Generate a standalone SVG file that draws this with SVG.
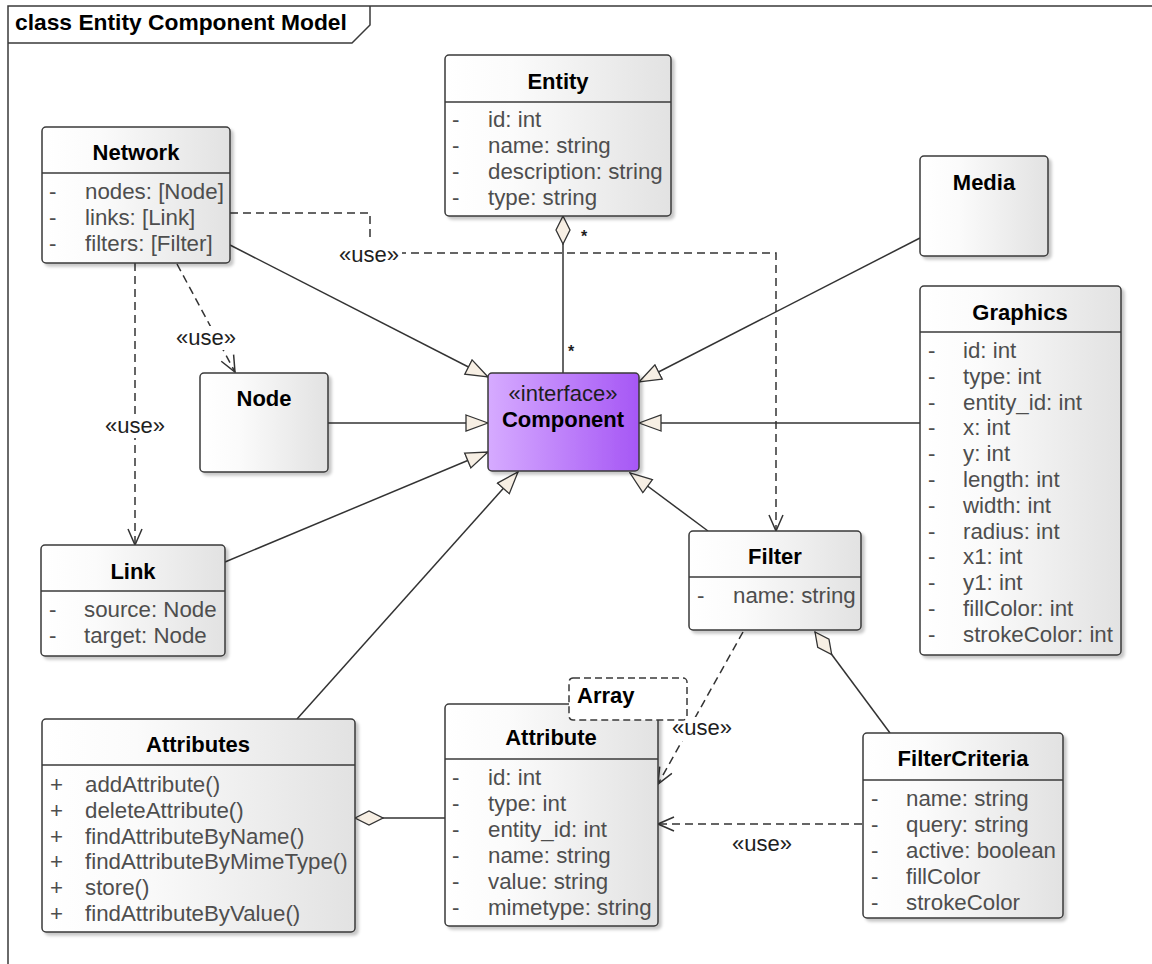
<svg xmlns="http://www.w3.org/2000/svg" width="1152" height="964" viewBox="0 0 1152 964">
  <defs>
    <style>
      .frame { fill: none; stroke: #3a3a3a; stroke-width: 1.5; }
      .frame-title { font: bold 22.8px "Liberation Sans", Arial, sans-serif; fill: #000; }
      .box { fill: url(#boxGrad); stroke: #3a3a3a; stroke-width: 1.5; filter: url(#shadow); }
      .iface { fill: url(#ifaceGrad); stroke: #3a3a3a; stroke-width: 1.5; filter: url(#shadow); }
      .sep { stroke: #3a3a3a; stroke-width: 1.5; }
      .title { font: bold 22px "Liberation Sans", Arial, sans-serif; fill: #000; text-anchor: middle; }
      .stereo { font: 22px "Liberation Sans", Arial, sans-serif; fill: #1e1e1e; text-anchor: middle; }
      .attr { font: 22.3px "Liberation Sans", Arial, sans-serif; fill: #4e4e4e; }
      .note { fill: #fff; stroke: #3a3a3a; stroke-width: 1.5; stroke-dasharray: 7 4; }
      .note-text { font: bold 22px "Liberation Sans", Arial, sans-serif; fill: #000; }
      .solid { fill: none; stroke: #333; stroke-width: 1.5; }
      .dash { fill: none; stroke: #333; stroke-width: 1.5; stroke-dasharray: 8 5; }
      .label { font: 22px "Liberation Sans", Arial, sans-serif; fill: #1e1e1e; text-anchor: middle; }
      .mult { font: bold 16px "Liberation Sans", Arial, sans-serif; fill: #1e1e1e; text-anchor: middle; }
      .bg { fill: #fff; }
    </style>
    <linearGradient id="boxGrad" x1="0" y1="0" x2="1" y2="0">
      <stop offset="0" stop-color="#ffffff"/>
      <stop offset="0.3" stop-color="#fbfbfb"/>
      <stop offset="1" stop-color="#e2e2e2"/>
    </linearGradient>
    <linearGradient id="ifaceGrad" x1="0" y1="0" x2="1" y2="0">
      <stop offset="0" stop-color="#d6abff"/>
      <stop offset="1" stop-color="#a657f5"/>
    </linearGradient>
    <filter id="shadow" x="-10%" y="-10%" width="125%" height="125%">
      <feDropShadow dx="3" dy="3" stdDeviation="1.5" flood-color="#000" flood-opacity="0.22"/>
    </filter>
    <!-- hollow triangle: generalization -->
    <marker id="gen" viewBox="0 0 24 18" refX="23" refY="9" markerWidth="24" markerHeight="18" orient="auto" markerUnits="userSpaceOnUse">
      <path d="M1,1 L23,9 L1,17 z" fill="#f7efe4" stroke="#333" stroke-width="1.3" stroke-dasharray="none"/>
    </marker>
    <!-- open arrow: dependency -->
    <marker id="open" viewBox="0 0 18 16" refX="17" refY="8" markerWidth="18" markerHeight="16" orient="auto" markerUnits="userSpaceOnUse">
      <path d="M1,1 L17,8 L1,15" fill="none" stroke="#333" stroke-width="1.5" stroke-dasharray="none"/>
    </marker>
    <!-- hollow diamond: aggregation -->
    <marker id="agg" viewBox="0 0 30 16" refX="1" refY="8" markerWidth="30" markerHeight="16" orient="auto" markerUnits="userSpaceOnUse">
      <path d="M1,8 L15,1 L29,8 L15,15 z" fill="#f7efe4" stroke="#333" stroke-width="1.3" stroke-dasharray="none"/>
    </marker>
  </defs>

  <rect width="1152" height="964" fill="#fff"/>

  <!-- diagram frame -->
  <g id="frame">
    <path class="frame" d="M8,964 V6 H1152"/>
    <path class="frame" d="M8,43 H352 L370,25 V6"/>
    <text class="frame-title" x="15" y="30">class Entity Component Model</text>
  </g>

  <!-- connectors -->
  <g id="connectors">
    <!-- generalizations to Component -->
    <path class="solid" d="M230,245 L488,377" marker-end="url(#gen)"/>
    <path class="solid" d="M328,423 L488,423" marker-end="url(#gen)"/>
    <path class="solid" d="M225,562 L488,452" marker-end="url(#gen)"/>
    <path class="solid" d="M297,719 L518,472" marker-end="url(#gen)"/>
    <path class="solid" d="M920,238 L639,382" marker-end="url(#gen)"/>
    <path class="solid" d="M920,423 L639,423" marker-end="url(#gen)"/>
    <path class="solid" d="M708,531 L630,473" marker-end="url(#gen)"/>

    <!-- aggregations -->
    <path class="solid" d="M563,216 L563,373" marker-start="url(#agg)"/>
    <path class="solid" d="M815,632 L890,733" marker-start="url(#agg)"/>
    <path class="solid" d="M355,818 L445,818" marker-start="url(#agg)"/>

    <!-- dependencies -->
    <path class="dash" d="M230,213 H370 V253 H776 V531" marker-end="url(#open)"/>
    <path class="dash" d="M135,263 V545" marker-end="url(#open)"/>
    <path class="dash" d="M177,264 L235,372" marker-end="url(#open)"/>
    <path class="dash" d="M743,632 L658,784" marker-end="url(#open)"/>
    <path class="dash" d="M862,824 H658" marker-end="url(#open)"/>

    <!-- labels -->
    <rect class="bg" x="338" y="240" width="64" height="24"/>
    <text class="label" x="369" y="262">«use»</text>
    <rect class="bg" x="104" y="414" width="62" height="24"/>
    <text class="label" x="135" y="433">«use»</text>
    <rect class="bg" x="175" y="326" width="62" height="24"/>
    <text class="label" x="206" y="345">«use»</text>
    <rect class="bg" x="671" y="717" width="62" height="24"/>
    <text class="label" x="702" y="735">«use»</text>
    <text class="label" x="762" y="851">«use»</text>

    <text class="mult" x="584" y="242">*</text>
    <text class="mult" x="571" y="357">*</text>
  </g>

  <g id="entity">
    <rect class="box" x="445" y="55" width="226" height="161" rx="4"/>
    <line class="sep" x1="445" y1="102" x2="671" y2="102"/>
    <text class="title" x="558" y="89">Entity</text>
    <text class="attr" x="452" y="127">-</text><text class="attr" x="488" y="127">id: int</text>
    <text class="attr" x="452" y="153">-</text><text class="attr" x="488" y="153">name: string</text>
    <text class="attr" x="452" y="179">-</text><text class="attr" x="488" y="179">description: string</text>
    <text class="attr" x="452" y="205">-</text><text class="attr" x="488" y="205">type: string</text>
  </g>

  <g id="network">
    <rect class="box" x="42" y="127" width="188" height="136" rx="4"/>
    <line class="sep" x1="42" y1="173" x2="230" y2="173"/>
    <text class="title" x="136" y="160">Network</text>
    <text class="attr" x="49" y="199">-</text><text class="attr" x="85" y="199">nodes: [Node]</text>
    <text class="attr" x="49" y="225">-</text><text class="attr" x="85" y="225">links: [Link]</text>
    <text class="attr" x="49" y="251">-</text><text class="attr" x="85" y="251">filters: [Filter]</text>
  </g>

  <g id="media">
    <rect class="box" x="920" y="156" width="128" height="100" rx="4"/>
    <text class="title" x="984" y="190">Media</text>
  </g>

  <g id="node">
    <rect class="box" x="200" y="373" width="128" height="99" rx="4"/>
    <text class="title" x="264" y="406">Node</text>
  </g>

  <g id="component">
    <rect class="iface" x="488" y="373" width="151" height="98" rx="4"/>
    <text class="stereo" x="563" y="401">«interface»</text>
    <text class="title" x="563" y="427">Component</text>
  </g>

  <g id="graphics">
    <rect class="box" x="920" y="286" width="201" height="369" rx="4"/>
    <line class="sep" x1="920" y1="332" x2="1121" y2="332"/>
    <text class="title" x="1020" y="320">Graphics</text>
    <g class="attr">
      <text x="928" y="358">-</text><text x="963" y="358">id: int</text>
      <text x="928" y="383.8">-</text><text x="963" y="383.8">type: int</text>
      <text x="928" y="409.6">-</text><text x="963" y="409.6">entity_id: int</text>
      <text x="928" y="435.4">-</text><text x="963" y="435.4">x: int</text>
      <text x="928" y="461.2">-</text><text x="963" y="461.2">y: int</text>
      <text x="928" y="487">-</text><text x="963" y="487">length: int</text>
      <text x="928" y="512.8">-</text><text x="963" y="512.8">width: int</text>
      <text x="928" y="538.6">-</text><text x="963" y="538.6">radius: int</text>
      <text x="928" y="564.4">-</text><text x="963" y="564.4">x1: int</text>
      <text x="928" y="590.2">-</text><text x="963" y="590.2">y1: int</text>
      <text x="928" y="616">-</text><text x="963" y="616">fillColor: int</text>
      <text x="928" y="641.8">-</text><text x="963" y="641.8">strokeColor: int</text>
    </g>
  </g>

  <g id="link">
    <rect class="box" x="41" y="545" width="184" height="111" rx="4"/>
    <line class="sep" x1="41" y1="591" x2="225" y2="591"/>
    <text class="title" x="133" y="579">Link</text>
    <text class="attr" x="49" y="617">-</text><text class="attr" x="84" y="617">source: Node</text>
    <text class="attr" x="49" y="643">-</text><text class="attr" x="84" y="643">target: Node</text>
  </g>

  <g id="filter">
    <rect class="box" x="689" y="531" width="172" height="99" rx="4"/>
    <line class="sep" x1="689" y1="577" x2="861" y2="577"/>
    <text class="title" x="775" y="564">Filter</text>
    <text class="attr" x="697" y="603">-</text><text class="attr" x="733" y="603">name: string</text>
  </g>

  <g id="attribute">
    <rect class="box" x="445" y="704" width="213" height="222" rx="4"/>
    <line class="sep" x1="445" y1="759" x2="658" y2="759"/>
    <text class="title" x="551" y="745">Attribute</text>
    <g class="attr">
      <text x="452" y="785">-</text><text x="488" y="785">id: int</text>
      <text x="452" y="811">-</text><text x="488" y="811">type: int</text>
      <text x="452" y="837">-</text><text x="488" y="837">entity_id: int</text>
      <text x="452" y="863">-</text><text x="488" y="863">name: string</text>
      <text x="452" y="889">-</text><text x="488" y="889">value: string</text>
      <text x="452" y="915">-</text><text x="488" y="915">mimetype: string</text>
    </g>
  </g>

  <!-- template parameter -->
  <g id="array">
    <rect class="note" x="569" y="678" width="118" height="42" rx="4"/>
    <text class="note-text" x="577" y="703">Array</text>
  </g>

  <g id="attributes">
    <rect class="box" x="42" y="719" width="313" height="213" rx="4"/>
    <line class="sep" x1="42" y1="765" x2="355" y2="765"/>
    <text class="title" x="198" y="752">Attributes</text>
    <g class="attr">
      <text x="50" y="792">+</text><text x="85" y="792">addAttribute()</text>
      <text x="50" y="817.8">+</text><text x="85" y="817.8">deleteAttribute()</text>
      <text x="50" y="843.6">+</text><text x="85" y="843.6">findAttributeByName()</text>
      <text x="50" y="869.4">+</text><text x="85" y="869.4">findAttributeByMimeType()</text>
      <text x="50" y="895.2">+</text><text x="85" y="895.2">store()</text>
      <text x="50" y="921">+</text><text x="85" y="921">findAttributeByValue()</text>
    </g>
  </g>

  <g id="filter-criteria">
    <rect class="box" x="863" y="733" width="200" height="185" rx="4"/>
    <line class="sep" x1="863" y1="780" x2="1063" y2="780"/>
    <text class="title" x="963" y="766">FilterCriteria</text>
    <g class="attr">
      <text x="871" y="806">-</text><text x="906" y="806">name: string</text>
      <text x="871" y="832">-</text><text x="906" y="832">query: string</text>
      <text x="871" y="858">-</text><text x="906" y="858">active: boolean</text>
      <text x="871" y="884">-</text><text x="906" y="884">fillColor</text>
      <text x="871" y="910">-</text><text x="906" y="910">strokeColor</text>
    </g>
  </g>
</svg>
